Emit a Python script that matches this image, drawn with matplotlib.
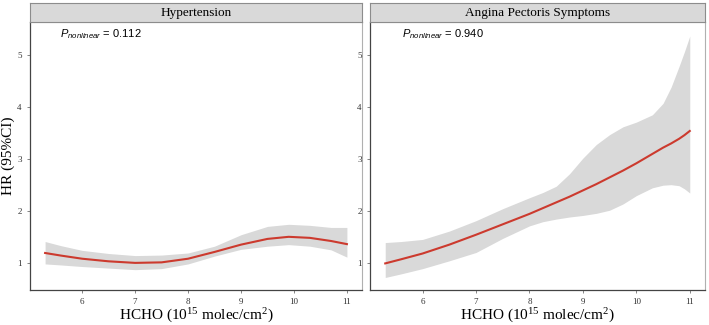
import matplotlib.pyplot as plt

plt.rcParams['font.family'] = 'Liberation Serif'
plt.rcParams['mathtext.fontset'] = 'custom'
plt.rcParams['mathtext.rm'] = 'Liberation Serif'
plt.rcParams['mathtext.it'] = 'Liberation Sans:italic'

# Hypertension spline
hyp_x = [5.3, 5.6, 6.0, 6.5, 7.0, 7.5, 8.0, 8.5, 9.0, 9.5, 9.9, 10.3, 10.7, 11.0]
hyp_hr = [1.20, 1.15, 1.09, 1.04, 1.01, 1.02, 1.09, 1.22, 1.36, 1.47, 1.51, 1.49, 1.43, 1.37]
hyp_lo = [0.99, 0.97, 0.94, 0.91, 0.88, 0.90, 0.99, 1.14, 1.27, 1.33, 1.36, 1.33, 1.26, 1.12]
hyp_hi = [1.42, 1.34, 1.25, 1.19, 1.15, 1.16, 1.20, 1.33, 1.55, 1.71, 1.75, 1.73, 1.69, 1.69]

# Angina pectoris symptoms spline
ang_x = [5.3, 5.6, 6.0, 6.5, 7.0, 7.5, 8.0, 8.25, 8.5, 8.75, 9.0, 9.25, 9.5, 9.75,
         10.0, 10.3, 10.5, 10.65, 10.8, 10.9, 11.0]
ang_hr = [1.00, 1.08, 1.19, 1.36, 1.55, 1.75, 1.95, 2.06, 2.17, 2.28, 2.40, 2.52, 2.65, 2.78,
          2.92, 3.10, 3.22, 3.30, 3.39, 3.46, 3.54]
ang_lo = [0.73, 0.80, 0.90, 1.05, 1.21, 1.48, 1.72, 1.80, 1.85, 1.89, 1.92, 1.96, 2.02, 2.14,
          2.30, 2.45, 2.50, 2.51, 2.49, 2.43, 2.35]
ang_hi = [1.40, 1.42, 1.46, 1.62, 1.82, 2.05, 2.26, 2.36, 2.48, 2.72, 3.02, 3.28, 3.47, 3.62,
          3.71, 3.85, 4.07, 4.38, 4.78, 5.06, 5.36]

titles = ['Hypertension', 'Angina Pectoris Symptoms']
p_values = ['0.112', '0.940']
x_ticks = [6, 7, 8, 9, 10, 11]
y_ticks = [1, 2, 3, 4, 5]

panels = [(hyp_x, hyp_hr, hyp_lo, hyp_hi), (ang_x, ang_hr, ang_lo, ang_hi)]

W, H = 709, 325
fig = plt.figure(figsize=(W / 100, H / 100), dpi=100)

lefts = [30, 370]
rights = [362, 705]
top, bottom, strip_top = 22, 290, 3

for i, (x, hr, lo, hi) in enumerate(panels):
    x0 = lefts[i] / W
    w = (rights[i] - lefts[i]) / W
    ax = fig.add_axes([x0, 1 - bottom / H, w, (bottom - top) / H])
    ax.fill_between(x, lo, hi, color='#d9d9d9', lw=0)
    ax.plot(x, hr, color='#cc3a2e', lw=1.5)
    ax.set_xlim(5.015, 11.285)
    ax.set_ylim(0.49, 5.63)
    ax.set_xticks(x_ticks)
    ax.set_yticks(y_ticks)
    ax.tick_params(labelsize=6.5, length=2, width=0.5, color='#555555', labelcolor='#333333', pad=4)
    for s in ['top', 'right']:
        ax.spines[s].set_color('#b0b0b0')
        ax.spines[s].set_linewidth(0.8)
    for s in ['left', 'bottom']:
        ax.spines[s].set_color('#444444')
        ax.spines[s].set_linewidth(0.9)
    ax.set_xlabel('HCHO (10$^{15}$ molec/cm$^{2}$)', fontsize=11)
    ax.xaxis.set_label_coords(0.5, -0.058)
    ax.text(0.09 if i == 0 else 0.095, 0.955, '$P_{nonlinear}$ = ' + p_values[i],
            transform=ax.transAxes, family='Liberation Sans', fontsize=8, va='center')

    # strip
    sax = fig.add_axes([x0, 1 - top / H, w, (top - strip_top) / H])
    sax.set_xticks([])
    sax.set_yticks([])
    sax.set_facecolor('#d9d9d9')
    for s in sax.spines.values():
        s.set_color('#8c8c8c')
        s.set_linewidth(0.8)
    sax.text(0.5, 0.45, titles[i], transform=sax.transAxes, ha='center', va='center', fontsize=9.5)

fig.text(8 / W, 1 - 156 / H, 'HR (95%CI)', rotation=90, ha='center', va='center', fontsize=11)

plt.savefig('out.png', dpi=100)
